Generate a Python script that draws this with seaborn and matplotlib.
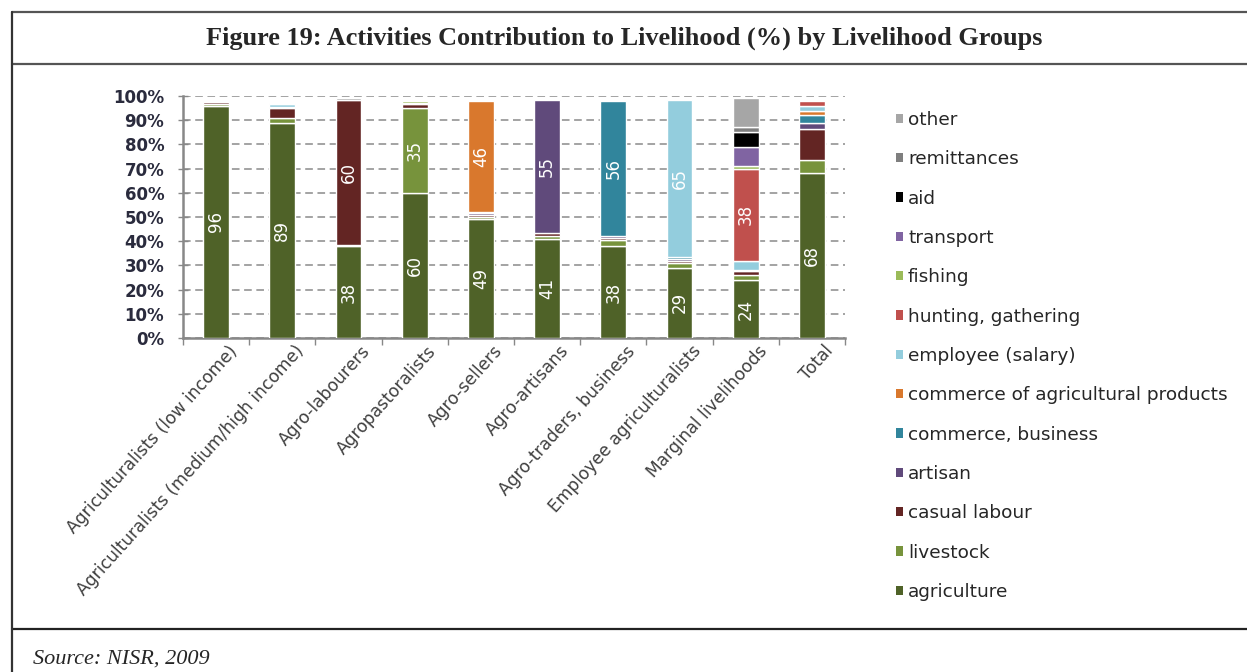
import numpy as np
import pandas as pd
import matplotlib
matplotlib.use("Agg")
import matplotlib.pyplot as plt
import matplotlib.transforms as mtransforms
from matplotlib.lines import Line2D
from matplotlib.patches import Patch
import seaborn as sns

groups = ["Agriculturalists (low income)", "Agriculturalists (medium/high income)",
          "Agro-labourers", "Agropastoralists", "Agro-sellers", "Agro-artisans",
          "Agro-traders, business", "Employee agriculturalists",
          "Marginal livelihoods", "Total"]

activities = ["agriculture", "livestock", "casual labour", "artisan", "commerce, business",
              "commerce of agricultural products", "employee (salary)", "hunting, gathering",
              "fishing", "transport", "aid", "remittances", "other"]

agriculture = [96, 89, 38, 60, 49, 41, 38, 29, 24, 68]
livestock = [0.5, 2, 0.5, 35, 1, 1, 2.5, 2, 2, 5.5]
casual_labour = [1, 4, 60, 1.5, 1, 1.5, 1, 1, 1.5, 13]
artisan = [0, 0.5, 0, 0, 0.5, 55, 0.5, 0.5, 0, 2.5]
commerce_business = [0, 0, 0, 0, 0.5, 0, 56, 1, 0.5, 3]
commerce_agri = [0, 0, 0, 0, 46, 0, 0, 0, 0, 2]
employee = [0, 1.0, 0, 0.5, 0, 0, 0, 65, 4, 2]
hunting = [0, 0, 0, 0, 0, 0, 0, 0, 38, 2]
fishing = [0, 0, 0, 1, 0, 0, 0, 0, 1, 0]
transport = [0, 0, 0, 0, 0, 0, 0, 0, 8, 0]
aid = [0, 0, 0, 0, 0, 0, 0, 0, 6, 0]
remittances = [0, 0, 0, 0, 0, 0, 0, 0, 2, 0]
other = [0.5, 0.5, 0.5, 0, 0, 0, 0, 0, 12, 0]

colors = ["#4F6228", "#77933C", "#632523", "#604A7B", "#31859C", "#D9782D",
          "#93CDDD", "#C0504D", "#9BBB59", "#8064A2", "#000000", "#7F7F7F", "#A6A6A6"]

series = [agriculture, livestock, casual_labour, artisan, commerce_business, commerce_agri,
          employee, hunting, fishing, transport, aid, remittances, other]

yticks = [0, 10, 20, 30, 40, 50, 60, 70, 80, 90, 100]
ytick_labels = [f"{t}%" for t in yticks]

sns.set_theme(style="white")
plt.rcParams['font.family'] = ['DejaVu Sans']

W, H = 1247, 672
fig = plt.figure(figsize=(W / 100, H / 100), dpi=100)
ax = fig.add_axes([183 / W, (H - 338) / H, (845 - 183) / W, (338 - 96) / H])

bottoms = np.zeros(len(groups))
label_patches = []
for name, vals, col in zip(activities, series, colors):
    vals = np.array(vals, dtype=float)
    df = pd.DataFrame({"group": groups, "value": vals, "bottom": bottoms.copy()})
    sub = df[df["value"] > 0]
    if len(sub):
        n_before = len(ax.patches)
        sns.barplot(data=sub, x="group", y="value", order=groups, color=col,
                    saturation=1, width=0.39, errorbar=None, bottom=sub["bottom"].values,
                    edgecolor="white", linewidth=1.0, ax=ax, zorder=3)
        for p, v in zip(ax.patches[n_before:], sub["value"].values):
            if v >= 20:
                label_patches.append((p, v))
    bottoms = bottoms + vals

for p, v in label_patches:
    cx = p.get_x() + p.get_width() / 2
    cy = p.get_y() + p.get_height() / 2
    ax.text(cx, cy, f"{v:.0f}", rotation=90, ha="center", va="center",
            color="white", fontsize=12, zorder=5)

ax.set_xlim(-0.5, len(groups) - 0.5)
ax.set_ylim(0, 100)
ax.set_yticks(yticks)
ax.set_yticklabels(ytick_labels, fontsize=12, fontweight="bold", color="#2a2b3d")
ax.set_xlabel("")
ax.set_ylabel("")
ax.yaxis.grid(True, color="#8a8a8a", linestyle=(0, (5, 3)), linewidth=1.1)
ax.xaxis.grid(False)
ax.set_axisbelow(True)
for s in ["top", "right"]:
    ax.spines[s].set_visible(False)
for s in ["left", "bottom"]:
    ax.spines[s].set_color("#888888")
    ax.spines[s].set_linewidth(1.8)
ax.tick_params(axis="y", direction="inout", length=7, width=1, color="#888888", left=True, pad=10)
ax.set_xticks(np.arange(-0.5, len(groups), 1.0), minor=True)
ax.tick_params(axis="x", which="minor", direction="out", length=5, width=1, color="#888888", bottom=True)
ax.tick_params(axis="x", which="major", length=0, pad=3)
ax.set_xticks(range(len(groups)))
ax.set_xticklabels(groups, rotation=48, ha="right", va="top", rotation_mode="anchor",
                   fontsize=12.3, color="#404040")
offset = mtransforms.ScaledTranslation(12 / 100, 0, fig.dpi_scale_trans)
for lbl in ax.get_xticklabels():
    lbl.set_transform(lbl.get_transform() + offset)

handles = [Patch(facecolor=c, edgecolor="none") for c in colors[::-1]]
fig.legend(handles, activities[::-1], loc="upper left", bbox_to_anchor=(896 / W, 1 - 111 / H),
           frameon=False, fontsize=13.3, handlelength=0.4, handleheight=0.4,
           handletextpad=0.25, labelspacing=1.155, borderaxespad=0, borderpad=0)

# frame lines
lc = "#555555"
fig.add_artist(Line2D([12 / W, 1], [1 - 12 / H, 1 - 12 / H], color=lc, lw=1.6, transform=fig.transFigure))
fig.add_artist(Line2D([12 / W, 1], [1 - 64 / H, 1 - 64 / H], color=lc, lw=1.6, transform=fig.transFigure))
fig.add_artist(Line2D([12 / W, 1], [1 - 629 / H, 1 - 629 / H], color="#222222", lw=1.6, transform=fig.transFigure))
fig.add_artist(Line2D([12 / W, 12 / W], [0, 1 - 12 / H], color="#333333", lw=1.6, transform=fig.transFigure))

fig.text(624 / W, 1 - 38 / H, "Figure 19: Activities Contribution to Livelihood (%) by Livelihood Groups",
         ha="center", va="center", fontsize=18.9, fontweight="bold", family="Liberation Serif")
fig.text(33 / W, 1 - 659 / H, "Source: NISR, 2009", ha="left", va="center", fontsize=16,
         style="italic", family="Liberation Serif")

fig.savefig("out.png", dpi=100)
